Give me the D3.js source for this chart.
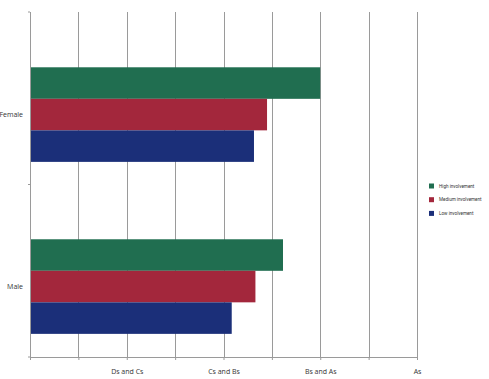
<!DOCTYPE html>
<html><head><meta charset="utf-8">
<script src="https://cdn.jsdelivr.net/npm/d3@7"></script>
<style>body{margin:0;background:#fff;overflow:hidden}svg{display:block}text{font-family:"Open Sans","Liberation Sans",sans-serif;fill:#333}</style>
</head><body><svg id="c" width="489" height="379"></svg>
<script>
const categories = ["Female", "Male"];
const seriesNames = ["High involvement", "Medium involvement", "Low involvement"];
const highValues = [6.0, 5.23];
const mediumValues = [4.9, 4.66];
const lowValues = [4.63, 4.17];
const tickValues = [0,1,2,3,4,5,6,7,8];
const tickLabels = ["", "", "Ds and Cs", "", "Cs and Bs", "", "Bs and As", "", "As"];
const colors = ["#206e50", "#a3273c", "#1b2f79"];

const svg = d3.select("#c");
const L = 30, R = 417, T = 12, B = 357;
const x = d3.scaleLinear().domain([0, 8]).range([L, R]);
const yCat = d3.scaleBand().domain(categories).range([T, B]).padding(0);
const yBar = d3.scaleBand().domain(categories).range([T, B]).paddingInner(0.45).paddingOuter(0.228).align(0.705);
const ySub = d3.scaleBand().domain(seriesNames).range([0, yBar.bandwidth()]);

// gridlines
svg.append("g").selectAll("line").data(tickValues.slice(1)).join("line")
  .attr("x1", d => Math.round(x(d)) + 0.5).attr("x2", d => Math.round(x(d)) + 0.5)
  .attr("y1", T).attr("y2", B).attr("stroke", "#9a9a9a").attr("stroke-width", 1);

const data = categories.map((c, i) => ({cat: c, vals: [highValues[i], mediumValues[i], lowValues[i]]}));
svg.append("g").selectAll("g").data(data).join("g")
  .attr("transform", d => `translate(0,${yBar(d.cat)})`)
  .selectAll("rect").data(d => d.vals.map((v, j) => ({v, s: seriesNames[j], j}))).join("rect")
  .attr("x", x(0)).attr("y", d => ySub(d.s)).attr("height", ySub.bandwidth())
  .attr("width", d => x(d.v) - x(0)).attr("fill", d => colors[d.j]);

// bottom axis
const xAxis = d3.axisBottom(x).tickValues(tickValues).tickFormat((d, i) => tickLabels[i]).tickSize(3).tickPadding(9);
const gx = svg.append("g").attr("transform", `translate(0,${B})`).call(xAxis);
gx.select(".domain").attr("stroke", "#9a9a9a");
gx.selectAll(".tick line").attr("stroke", "#9a9a9a");
gx.selectAll("text").attr("font-size", 7).attr("fill", "#333");

// left axis line + boundary ticks
svg.append("line").attr("x1", L + 0.5).attr("x2", L + 0.5).attr("y1", T).attr("y2", B).attr("stroke", "#9a9a9a");
const bounds = [T, yCat("Male"), B];
svg.append("g").selectAll("line").data(bounds).join("line")
  .attr("x1", L - 2).attr("x2", L).attr("y1", d => d).attr("y2", d => d).attr("stroke", "#9a9a9a");

// category labels
svg.append("g").selectAll("text").data(categories).join("text")
  .attr("x", 23).attr("y", d => yBar(d) + yBar.bandwidth() / 2)
  .attr("text-anchor", "end").attr("dominant-baseline", "central")
  .attr("font-size", 7).text(d => d);

// legend
const lgX = 429;
const lg = svg.append("g").attr("transform", `translate(${lgX},186)`);
const li = lg.selectAll("g").data(seriesNames).join("g").attr("transform", (d, i) => `translate(0,${i * 13.7})`);
li.append("rect").attr("x", 0).attr("y", -2.5).attr("width", 5).attr("height", 5).attr("fill", (d, i) => colors[i]);
const lt = li.append("text").attr("x", 10).attr("y", 0).attr("dominant-baseline", "central")
  .attr("font-size", 7).style("font-family", '"Liberation Sans Narrow","Roboto","Liberation Sans",sans-serif')
  .text(d => d);
const maxW = 482 - (lgX + 10);
let longest = 0;
lt.each(function() { longest = Math.max(longest, this.getComputedTextLength()); });
if (longest > maxW) lt.attr("font-size", Math.floor(7 * maxW / longest * 10) / 10);
</script></body></html>
